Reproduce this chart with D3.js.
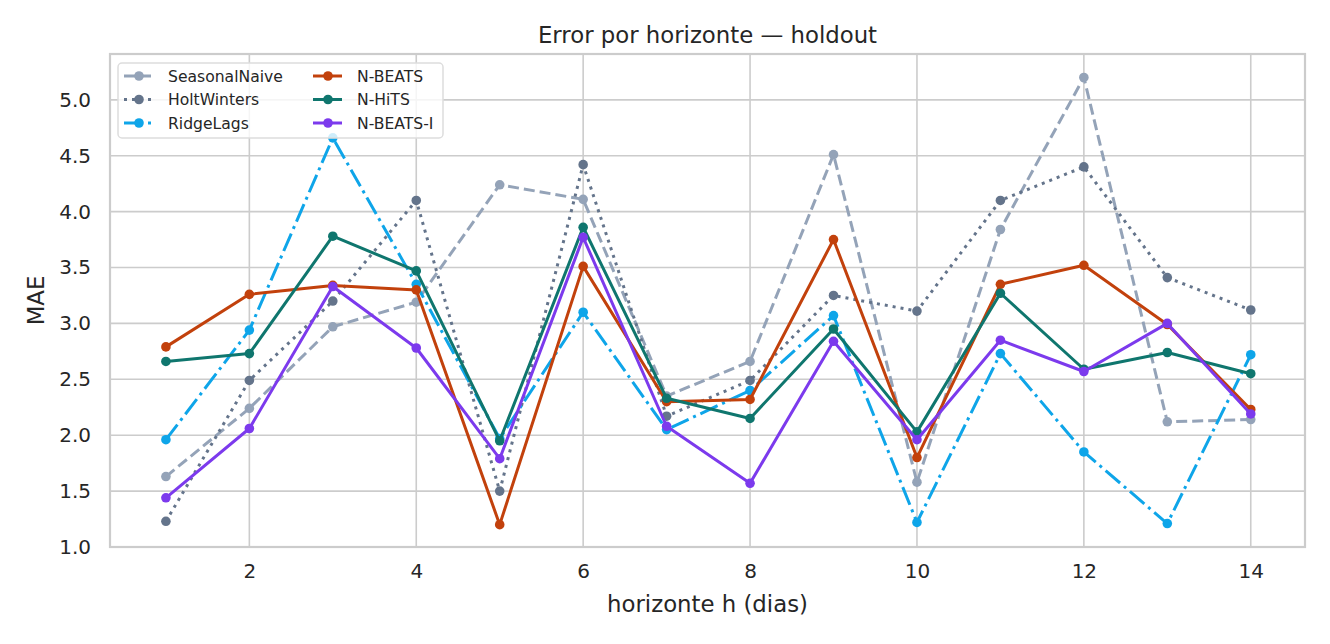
<!DOCTYPE html>
<html><head><meta charset="utf-8">
<script src="https://cdn.jsdelivr.net/npm/d3@7"></script>
<style>
html,body{margin:0;padding:0;background:#fff;}
svg{display:block;font-family:"DejaVu Sans",sans-serif;}
</style></head>
<body>
<svg id="chart" width="1330" height="644"></svg>
<script>
const horizons = [1,2,3,4,5,6,7,8,9,10,11,12,13,14];
const seasonalNaive = [1.63,2.24,2.97,3.19,4.24,4.11,2.35,2.66,4.51,1.58,3.84,5.20,2.12,2.14];
const holtWinters   = [1.23,2.49,3.20,4.10,1.50,4.42,2.17,2.49,3.25,3.11,4.10,4.40,3.41,3.12];
const ridgeLags     = [1.96,2.94,4.66,3.35,1.97,3.10,2.05,2.40,3.07,1.22,2.73,1.85,1.21,2.72];
const nBeats        = [2.79,3.26,3.34,3.30,1.20,3.51,2.30,2.32,3.75,1.80,3.35,3.52,2.99,2.23];
const nHits         = [2.66,2.73,3.78,3.47,1.95,3.86,2.33,2.15,2.95,2.03,3.27,2.59,2.74,2.55];
const nBeatsI       = [1.44,2.06,3.33,2.78,1.79,3.77,2.08,1.57,2.84,1.96,2.85,2.57,3.00,2.19];
const xTicks = [2,4,6,8,10,12,14];
const yTicks = [1.0,1.5,2.0,2.5,3.0,3.5,4.0,4.5,5.0];
const seriesNames = ["SeasonalNaive","HoltWinters","RidgeLags","N-BEATS","N-HiTS","N-BEATS-I"];
const seriesValues = [seasonalNaive,holtWinters,ridgeLags,nBeats,nHits,nBeatsI];
const seriesColors = ["#94a3b8","#64748b","#0ea5e9","#c2410c","#0f766e","#7c3aed"];
const seriesDash = ["11,5","3,5","19,5,3,5",null,null,null];
const titleText = "Error por horizonte — holdout";
const xLabel = "horizonte h (dias)";
const yLabel = "MAE";

const svg = d3.select("#chart");
const L = 110, R = 1305, T = 54, B = 547;
const x = d3.scaleLinear().domain([0.33,14.65]).range([L,R]);
const y = d3.scaleLinear().domain([1.0,5.41]).range([B,T]);

// grid
const g = svg.append("g");
g.selectAll("line.xg").data(xTicks).join("line")
  .attr("x1",d=>x(d)).attr("x2",d=>x(d)).attr("y1",T).attr("y2",B)
  .attr("stroke","#cccccc").attr("stroke-width",1.6);
g.selectAll("line.yg").data(yTicks).join("line")
  .attr("x1",L).attr("x2",R).attr("y1",d=>y(d)).attr("y2",d=>y(d))
  .attr("stroke","#cccccc").attr("stroke-width",1.6);

// axes (ticks text only)
const xAxis = d3.axisBottom(x).tickValues(xTicks).tickFormat(d3.format("d")).tickSize(0).tickPadding(17);
const yAxis = d3.axisLeft(y).tickValues(yTicks).tickFormat(d3.format(".1f")).tickSize(0).tickPadding(19);
const gx = svg.append("g").attr("transform",`translate(0,${B})`).call(xAxis);
const gy = svg.append("g").attr("transform",`translate(${L},0)`).call(yAxis);
[gx,gy].forEach(a=>{
  a.select(".domain").remove();
  a.selectAll("text").attr("font-size",20).attr("fill","#262626").attr("font-family","DejaVu Sans");
});

// frame
svg.append("rect").attr("x",L).attr("y",T).attr("width",R-L).attr("height",B-T)
  .attr("fill","none").attr("stroke","#cccccc").attr("stroke-width",2.2);

// lines
const line = d3.line().x((d,i)=>x(horizons[i])).y(d=>y(d));
seriesValues.forEach((vals,k)=>{
  const sg = svg.append("g");
  sg.append("path").datum(vals).attr("d",line).attr("fill","none")
    .attr("stroke",seriesColors[k]).attr("stroke-width",3)
    .attr("stroke-dasharray",seriesDash[k]).attr("stroke-linejoin","round");
  sg.selectAll("circle").data(vals).join("circle")
    .attr("cx",(d,i)=>x(horizons[i])).attr("cy",d=>y(d)).attr("r",4.8)
    .attr("fill",seriesColors[k]);
});

// title & labels
svg.append("text").attr("x",(L+R)/2).attr("y",43).attr("text-anchor","middle")
  .attr("font-size",22.8).attr("fill","#262626").text(titleText);
svg.append("text").attr("x",(L+R)/2).attr("y",612).attr("text-anchor","middle")
  .attr("font-size",22.8).attr("fill","#262626").text(xLabel);
svg.append("text").attr("transform","translate(44,"+((T+B)/2)+") rotate(-90)")
  .attr("text-anchor","middle").attr("font-size",22.8).attr("fill","#262626").text(yLabel);

// legend
const lg = svg.append("g");
lg.append("rect").attr("x",118).attr("y",63).attr("width",325).attr("height",75)
  .attr("rx",4).attr("fill","#ffffff").attr("fill-opacity",0.8)
  .attr("stroke","#dddddd").attr("stroke-width",1.5);
seriesNames.forEach((name,k)=>{
  const col = Math.floor(k/3), row = k%3;
  const hx = 124 + col*189, hy = 76 + row*23.5;
  lg.append("line").attr("x1",hx).attr("x2",hx+29).attr("y1",hy).attr("y2",hy)
    .attr("stroke",seriesColors[k]).attr("stroke-width",3)
    .attr("stroke-dasharray",seriesDash[k]);
  lg.append("circle").attr("cx",hx+15).attr("cy",hy).attr("r",4.8).attr("fill",seriesColors[k]);
  lg.append("text").attr("x",hx+44).attr("y",hy+5.5).attr("font-size",15.6)
    .attr("fill","#262626").text(name);
});
</script>
</body></html>
